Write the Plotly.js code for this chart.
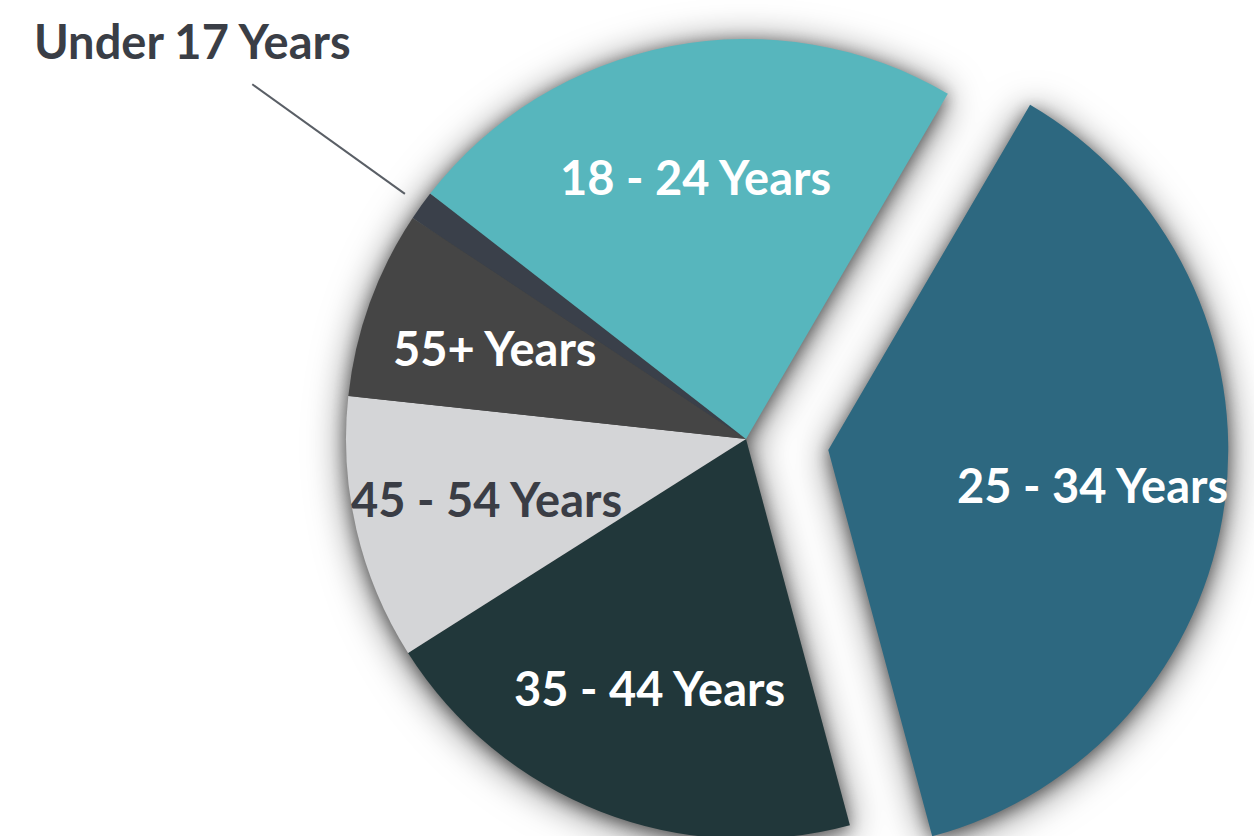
<!DOCTYPE html>
<html>
<head>
<meta charset="utf-8">
<script src="https://cdn.plot.ly/plotly-3.0.1.min.js"></script>
<style>
html,body{margin:0;padding:0;background:#ffffff;overflow:hidden;}
#wrap{position:relative;width:1254px;height:836px;overflow:hidden;background:#ffffff;}
#chart{position:absolute;left:0;top:-50px;width:1254px;height:980px;}
#chart .pielayer .trace{filter:drop-shadow(0 3px 8px rgba(0,0,0,0.45)) drop-shadow(0 4px 18px rgba(0,0,0,0.55));}
</style>
</head>
<body>
<div id="wrap"><div id="chart"></div></div>
<script>
// ---- data ----
const ageGroups = ['25 - 34 Years', '35 - 44 Years', '45 - 54 Years', '55+ Years', 'Under 17 Years', '18 - 24 Years'];
const shares = [37.4, 20.2, 10.7, 7.6, 1.2, 22.9];

// ---- styles ----
const sliceColors = ['#2d6880', '#21373a', '#d4d5d7', '#454545', '#3a404a', '#57b6bd'];
const labelColors = ['#ffffff', '#ffffff', '#3a3d45', '#ffffff', '#3a3e46', '#ffffff'];
const pulledGroup = '25 - 34 Years';
const outsideGroup = 'Under 17 Years';
const pullAmount = 0.2075;

// ---- geometry of the figure ----
const W = 1254, H = 980;
const cx = 746, cy = 489, r = 400;
const R = r * (1 + pullAmount);
const rotation = 30.3;
const labelRadius = 0.667;
const labelSize = 47;

const pulls = ageGroups.map(g => g === pulledGroup ? pullAmount : 0);

const trace = {
  type: 'pie',
  labels: ageGroups,
  values: shares,
  sort: false,
  direction: 'clockwise',
  rotation: rotation,
  pull: pulls,
  marker: {colors: sliceColors, line: {width: 0}},
  textinfo: 'none',
  hoverinfo: 'label+percent',
  showlegend: false,
  domain: {
    x: [(cx - R) / W, (cx + R) / W],
    y: [1 - (cy + R) / H, 1 - (cy - R) / H]
  }
};

// label positions derived from the data (mid-angle of each slice)
const total = shares.reduce((a, b) => a + b, 0);
const annotations = [];
const shapes = [];
let cum = 0;
const font = 'Lato, "Open Sans", sans-serif';
function toPaper(px, py) { return [px / W, 1 - py / H]; }
shares.forEach((v, i) => {
  const th = (rotation + 360 * (cum + v / 2) / total) * Math.PI / 180;
  cum += v;
  const sx = Math.sin(th), sy = -Math.cos(th);
  let ox = cx, oy = cy;
  if (pulls[i] > 0) { ox += pulls[i] * r * sx; oy += pulls[i] * r * sy; }
  let k = labelRadius;
  if (ageGroups[i] === outsideGroup) {
    const a = toPaper(ox + 1.05 * r * sx, oy + 1.05 * r * sy);
    const b = toPaper(ox + 1.52 * r * sx, oy + 1.52 * r * sy);
    shapes.push({type: 'line', xref: 'paper', yref: 'paper', x0: a[0], y0: a[1], x1: b[0], y1: b[1],
      line: {color: '#5a5f66', width: 2}});
    k = 1.705;
  }
  const t = toPaper(ox + k * r * sx, oy + k * r * sy);
  annotations.push({xref: 'paper', yref: 'paper', x: t[0], y: t[1], text: ageGroups[i], showarrow: false,
    xanchor: 'center', yanchor: 'middle',
    font: {family: font, size: labelSize, color: labelColors[i], weight: 700}});
});

const layout = {
  width: W, height: H,
  margin: {l: 0, r: 0, t: 0, b: 0, pad: 0},
  paper_bgcolor: '#ffffff',
  plot_bgcolor: '#ffffff',
  showlegend: false,
  annotations: annotations,
  shapes: shapes
};

Plotly.newPlot('chart', [trace], layout, {displayModeBar: false, staticPlot: true});
</script>
</body>
</html>
